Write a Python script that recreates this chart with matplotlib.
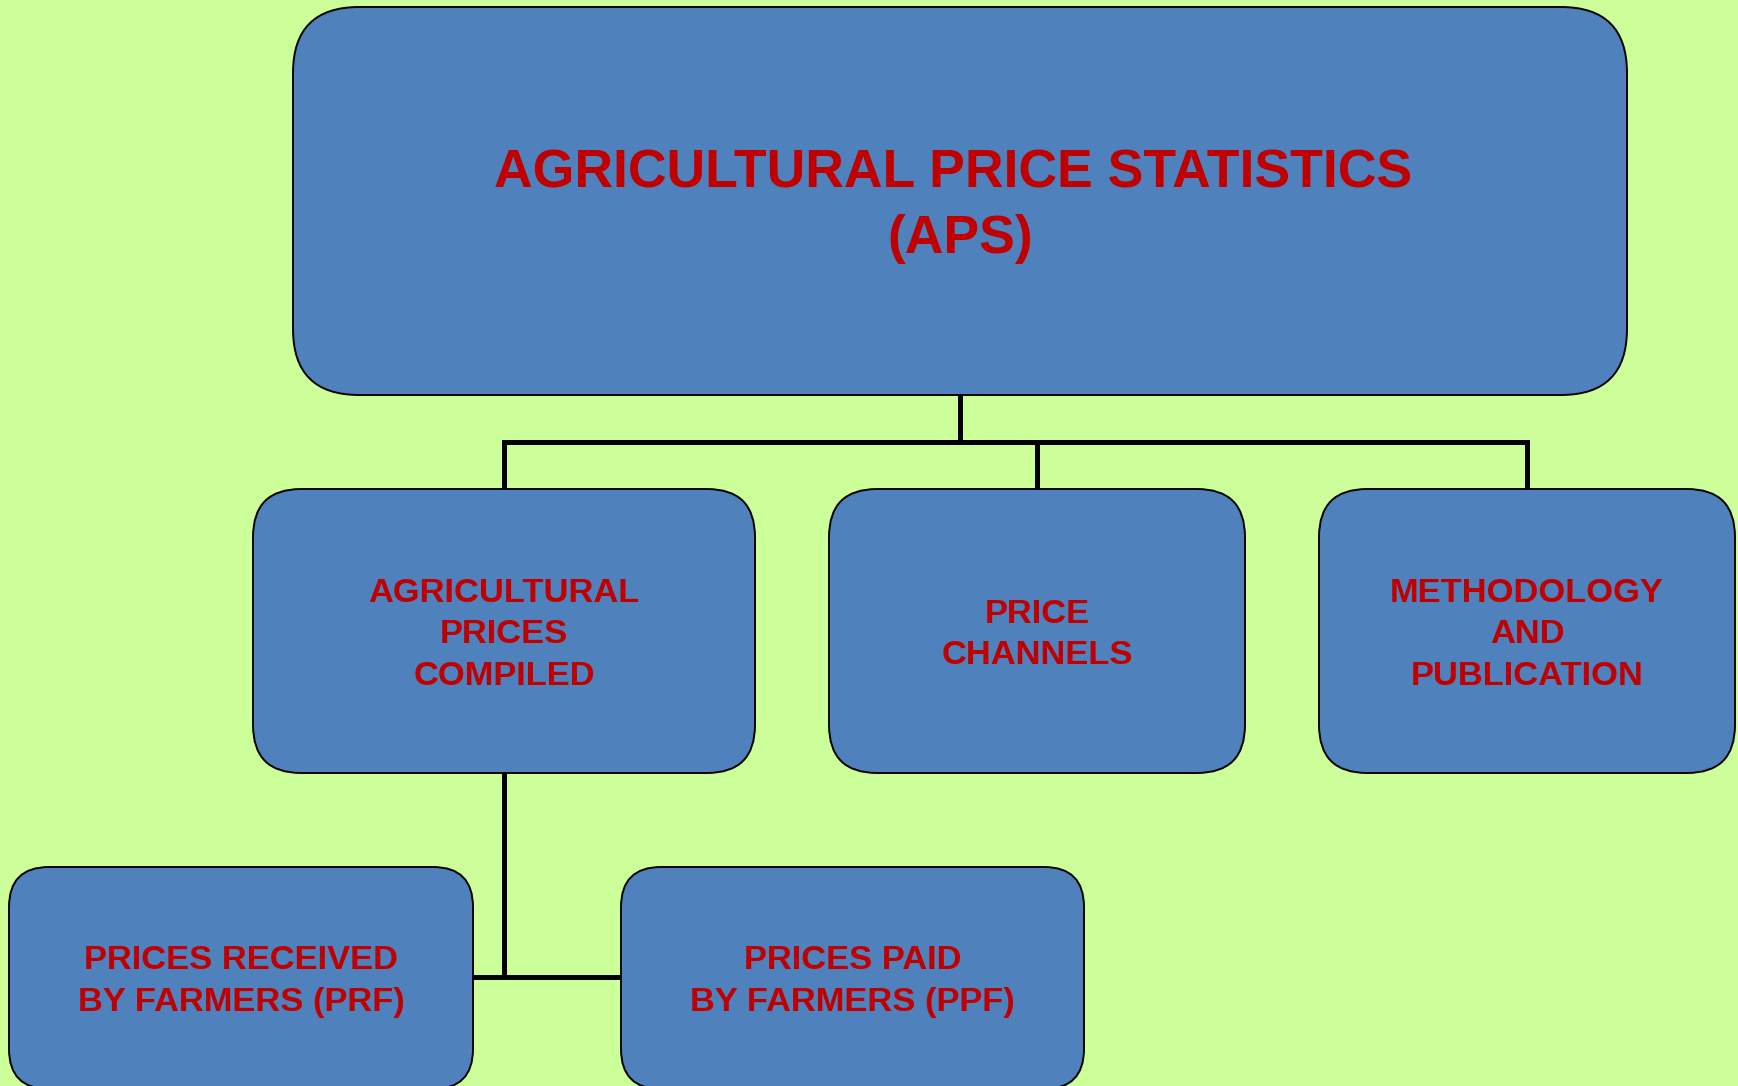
import matplotlib
matplotlib.use("Agg")
from matplotlib import pyplot as plt
from matplotlib.patches import FancyBboxPatch

# box labels, one list of lines per box
title_lines = ["AGRICULTURAL PRICE STATISTICS", "(APS)"]
mid_labels = [
    ["AGRICULTURAL", "PRICES", "COMPILED"],
    ["PRICE", "CHANNELS"],
    ["METHODOLOGY", "AND", "PUBLICATION"],
]
low_labels = [
    ["PRICES RECEIVED", "BY FARMERS (PRF)"],
    ["PRICES PAID", "BY FARMERS (PPF)"],
]

# layout in pixels (x0, y0, x1, y1), y grows downwards
top_box = (293, 7, 1627, 395)
mid_boxes = [(253, 489, 755, 773), (829, 489, 1245, 773), (1319, 489, 1735, 773)]
low_boxes = [(9, 867, 473, 1089), (621, 867, 1084, 1089)]

bg = "#CCFF99"
fill = "#4F81BD"
red = "#C00000"
W, H = 1738, 1086
dpi = 100

fig = plt.figure(figsize=(W / dpi, H / dpi), dpi=dpi, facecolor=bg)
ax = fig.add_axes([0, 0, 1, 1])
ax.set_xlim(0, W)
ax.set_ylim(H, 0)
ax.axis("off")
ax.set_facecolor(bg)

def draw_box(b, r):
    x0, y0, x1, y1 = b
    p = FancyBboxPatch((x0, y0), x1 - x0, y1 - y0,
                       boxstyle=f"round,pad=0,rounding_size={r}",
                       facecolor=fill, edgecolor="black", linewidth=1.4, zorder=3)
    ax.add_patch(p)

def draw_text(b, lines, px, step, dx=None):
    cx = (b[0] + b[2]) / 2
    cy = (b[1] + b[3]) / 2
    n = len(lines)
    for i, s in enumerate(lines):
        yc = cy + (i - (n - 1) / 2) * step
        off = dx[i] if dx else 0
        ax.text(cx + off, yc + 0.358 * px, s, ha="center", va="baseline",
                fontsize=px * 72 / dpi, fontweight="bold", color=red,
                family=["Liberation Sans", "DejaVu Sans"], zorder=5)

# connectors
lk = dict(color="black", linewidth=3.6, zorder=1, solid_capstyle="projecting")
top_cx = (top_box[0] + top_box[2]) / 2
bus_y = 442
ax.plot([top_cx, top_cx], [top_box[3], bus_y], **lk)
mid_cx = [(b[0] + b[2]) / 2 for b in mid_boxes]
ax.plot([mid_cx[0], mid_cx[-1]], [bus_y, bus_y], **lk)
for c in mid_cx:
    ax.plot([c, c], [bus_y, mid_boxes[0][1]], **lk)
low_y = 977
ax.plot([mid_cx[0], mid_cx[0]], [mid_boxes[0][3], low_y], **lk)
ax.plot([low_boxes[0][2], low_boxes[1][0]], [low_y, low_y], **lk)

draw_box(top_box, 66)
draw_text(top_box, title_lines, 53.5, 65, dx=[-7, 0])
for b, lab in zip(mid_boxes, mid_labels):
    draw_box(b, 48)
    draw_text(b, lab, 34.5, 41.5)
for b, lab in zip(low_boxes, low_labels):
    draw_box(b, 40)
    draw_text(b, lab, 34.5, 42)

fig.savefig("out.png", dpi=dpi, facecolor=bg)
